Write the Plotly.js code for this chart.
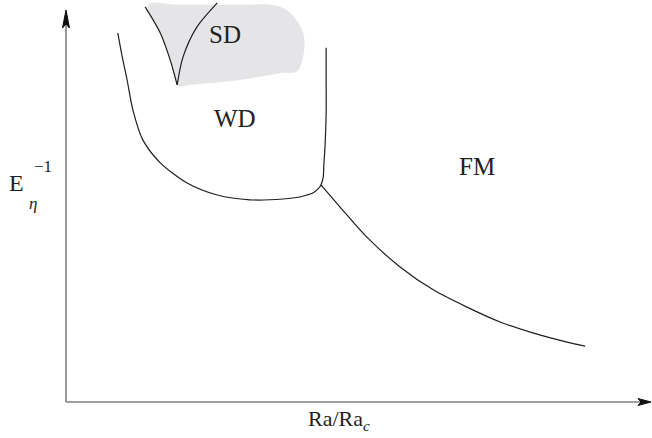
<!DOCTYPE html>
<html>
<head>
<meta charset="utf-8">
<script src="https://cdn.plot.ly/plotly-3.0.1.min.js"></script>
<style>html,body{margin:0;padding:0;background:#fff;}#chart{width:652px;height:438px;}</style>
</head>
<body>
<div id="chart"></div>
<script>
// Schematic regime diagram (arbitrary units: x = Ra/Ra_c, y = E_eta^-1)
var wdX = [0.89, 0.96, 1.05, 1.15, 1.32, 1.62, 2.08, 2.60, 3.16, 3.73, 4.02, 4.14, 4.24, 4.33, 4.38, 4.42, 4.43, 4.45, 4.47, 4.47, 4.47];
var wdY = [9.18, 8.63, 8.01, 7.26, 6.52, 5.95, 5.45, 5.15, 5.03, 5.05, 5.10, 5.15, 5.20, 5.30, 5.40, 5.60, 5.90, 6.34, 7.19, 8.01, 8.81];

var fmX = [4.38, 4.71, 5.17, 5.74, 6.31, 6.89, 7.46, 8.02, 8.61, 8.92];
var fmY = [5.40, 4.85, 4.10, 3.36, 2.79, 2.36, 1.99, 1.72, 1.49, 1.39];

var sdLeftX = [1.36, 1.62, 1.79, 1.91];
var sdLeftY = [9.83, 9.18, 8.51, 7.89];
var sdRightX = [1.91, 2.01, 2.25, 2.60];
var sdRightY = [7.89, 8.58, 9.33, 9.93];

var sdBlobX = [1.41, 1.96, 2.87, 3.68, 3.96, 4.09, 4.07, 3.97, 3.68, 2.99, 2.13, 1.93, 1.79, 1.62, 1.41];
var sdBlobY = [9.88, 9.88, 9.88, 9.83, 9.50, 9.08, 8.56, 8.23, 8.18, 8.01, 7.89, 7.86, 8.51, 9.18, 9.88];

var labels = ['SD', 'WD', 'FM'];
var labelX = [2.73, 2.90, 7.06];
var labelY = [9.13, 7.04, 5.85];

var xTitle = 'Ra/Ra<sub><i>c</i></sub>';
var yTitleMain = 'E', yTitleSub = '<i>η</i>', yTitleSup = '−1';

var lineStyle = {color: '#1e1e1e', width: 1.2, shape: 'spline', smoothing: 0.8};
var traces = [
  {x: sdBlobX, y: sdBlobY, mode: 'lines', fill: 'toself', fillcolor: '#e5e5e8',
   line: {width: 0, shape: 'spline', smoothing: 1}, hoverinfo: 'skip'},
  {x: wdX, y: wdY, mode: 'lines', line: lineStyle},
  {x: fmX, y: fmY, mode: 'lines', line: lineStyle},
  {x: sdLeftX, y: sdLeftY, mode: 'lines', line: lineStyle},
  {x: sdRightX, y: sdRightY, mode: 'lines', line: lineStyle}
];

var serif = '"Liberation Serif", "DejaVu Serif", serif';
var ann = [];
for (var i = 0; i < labels.length; i++) {
  ann.push({x: labelX[i], y: labelY[i], xref: 'x', yref: 'y', text: labels[i], showarrow: false,
            xanchor: 'center', yanchor: 'middle',
            font: {family: serif, size: 25, color: '#222'}});
}
// axis titles (paper coordinates, outside the plot area)
function titleAnn(x, y, text, size) {
  return {x: x, y: y, xref: 'paper', yref: 'paper', text: text, showarrow: false,
          xanchor: 'center', yanchor: 'middle', font: {family: serif, size: size, color: '#222'}};
}
ann.push(titleAnn(0.469, -0.045, xTitle, 22));
ann.push(titleAnn(-0.085, 0.545, yTitleMain, 24));
ann.push(titleAnn(-0.057, 0.495, yTitleSub, 17));
ann.push(titleAnn(-0.040, 0.585, yTitleSup, 17));

// axes drawn as arrows (paper coordinates)
var shapes = [
  {type: 'line', xref: 'paper', yref: 'paper', x0: 0, y0: 0, x1: 0.988, y1: 0,
   line: {color: '#808080', width: 1.6}},
  {type: 'line', xref: 'paper', yref: 'paper', x0: 0, y0: 0, x1: 0, y1: 0.945,
   line: {color: '#808080', width: 1.6}},
  {type: 'path', xref: 'paper', yref: 'paper',
   path: 'M 1.0052 0 L 0.9828 0.0087 L 0.9880 0 L 0.9828 -0.0087 Z',
   fillcolor: '#111', line: {color: '#111', width: 1}},
  {type: 'path', xref: 'paper', yref: 'paper',
   path: 'M 0 0.9751 L -0.0060 0.9303 L 0 0.9403 L 0.0060 0.9303 Z',
   fillcolor: '#111', line: {color: '#111', width: 1}}
];

var layout = {
  width: 652, height: 438,
  margin: {l: 66, r: 4, t: 0, b: 36},
  paper_bgcolor: '#fff', plot_bgcolor: '#fff',
  showlegend: false,
  xaxis: {range: [0, 10], visible: false, fixedrange: true},
  yaxis: {range: [0, 10], visible: false, fixedrange: true},
  annotations: ann,
  shapes: shapes
};
Plotly.newPlot('chart', traces, layout, {displayModeBar: false, staticPlot: true});
</script>
</body>
</html>
